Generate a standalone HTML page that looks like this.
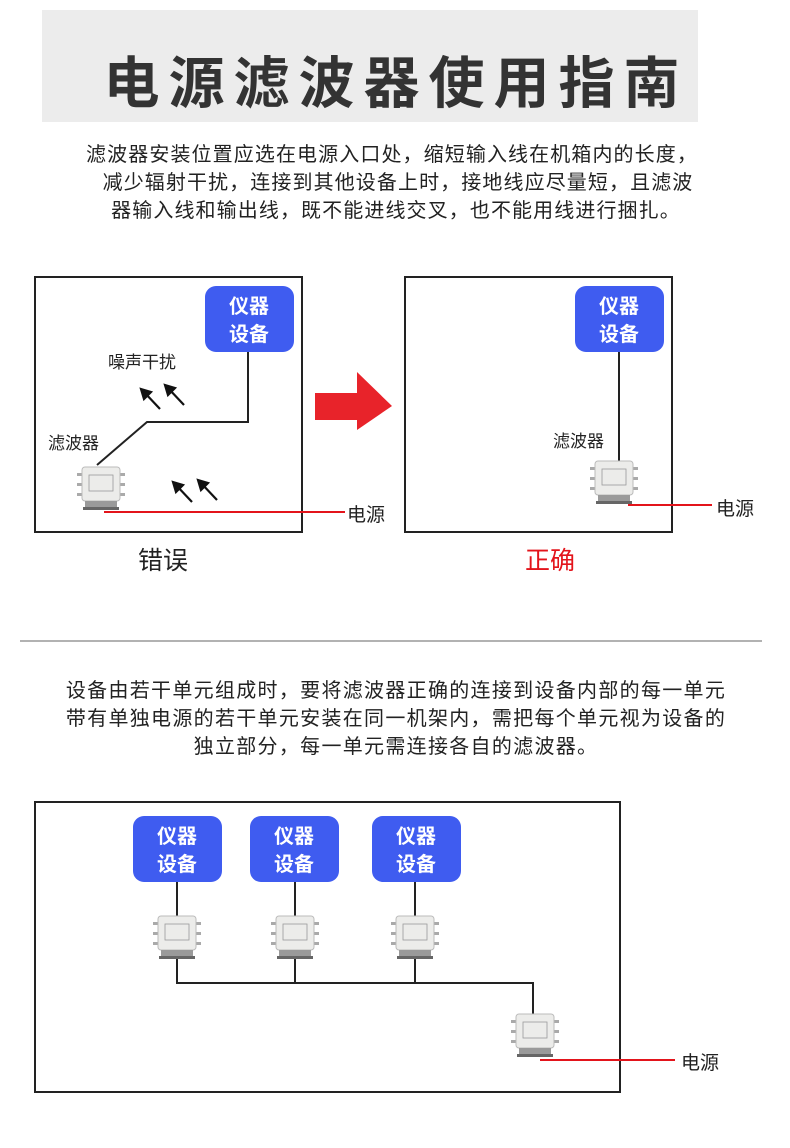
<!DOCTYPE html>
<html><head><meta charset="utf-8"><style>
html,body{margin:0;padding:0;background:#fff;}
body{width:790px;height:1148px;position:relative;overflow:hidden;font-family:"Liberation Sans","Noto Sans CJK SC",sans-serif;}
</style></head><body>
<svg width="790" height="1148" viewBox="0 0 790 1148" xmlns="http://www.w3.org/2000/svg" style="position:absolute;left:0;top:0;font-family:'Liberation Sans','Noto Sans CJK SC',sans-serif">
<defs>
<g id="flt">
 <rect x="-24" y="-14" width="5" height="3" fill="#aaa"/><rect x="-24" y="-4" width="5" height="3" fill="#aaa"/><rect x="-24" y="6" width="5" height="3" fill="#aaa"/>
 <rect x="19" y="-14" width="5" height="3" fill="#aaa"/><rect x="19" y="-4" width="5" height="3" fill="#aaa"/><rect x="19" y="6" width="5" height="3" fill="#aaa"/>
 <rect x="-19" y="-20" width="38" height="34" rx="3" fill="#ececea" stroke="#bbb" stroke-width="1"/>
 <rect x="-12" y="-12" width="24" height="16" fill="none" stroke="#999" stroke-width="0.8"/>
 <rect x="-16" y="14" width="32" height="6" fill="#9a9a9a"/>
 <rect x="-18" y="20" width="36" height="3" fill="#666"/>
</g>
</defs>
<rect x="42" y="10" width="656" height="112" fill="#ececec"/>
<text x="396" y="103" text-anchor="middle" font-size="56" font-weight="bold" fill="#333" letter-spacing="9">电源滤波器使用指南</text>
<g font-size="20" fill="#222" text-anchor="middle" letter-spacing="1.1">
<text x="392" y="161">滤波器安装位置应选在电源入口处，缩短输入线在机箱内的长度，</text>
<text x="398" y="189">减少辐射干扰，连接到其他设备上时，接地线应尽量短，且滤波</text>
<text x="396" y="217">器输入线和输出线，既不能进线交叉，也不能用线进行捆扎。</text>
</g>
<!-- box 1 -->
<rect x="35" y="277" width="267" height="255" fill="none" stroke="#222" stroke-width="2"/>
<rect x="205" y="286" width="89" height="66" rx="11" fill="#3f5cf0"/>
<text x="249" y="313" text-anchor="middle" font-size="20" font-weight="bold" fill="#fff">仪器</text>
<text x="249" y="341" text-anchor="middle" font-size="20" font-weight="bold" fill="#fff">设备</text>
<polyline points="248,352 248,422 147,422 97,465" fill="none" stroke="#222" stroke-width="2"/>
<text x="108" y="368" font-size="17" fill="#222">噪声干扰</text>
<text x="48" y="449" font-size="17" fill="#222">滤波器</text>
<g stroke="#111" stroke-width="2.2" fill="#111">
<line x1="160" y1="409" x2="144" y2="392"/><polygon points="141,389 151,392 144,399"/>
<line x1="184" y1="405" x2="168" y2="388"/><polygon points="165,385 175,388 168,395"/>
<line x1="192" y1="502" x2="176" y2="485"/><polygon points="173,482 183,485 176,492"/>
<line x1="217" y1="500" x2="201" y2="483"/><polygon points="198,480 208,483 201,490"/>
</g>
<use href="#flt" x="101" y="487"/>
<line x1="104" y1="512" x2="345" y2="512" stroke="#e3141b" stroke-width="2"/>
<text x="347" y="521" font-size="19" fill="#222">电源</text>
<text x="163" y="569" text-anchor="middle" font-size="25" fill="#222">错误</text>
<!-- red arrow -->
<polygon points="315,393 357,393 357,372 392,406 357,430 357,420 315,420" fill="#e8232a"/>
<!-- box 2 -->
<rect x="405" y="277" width="267" height="255" fill="none" stroke="#222" stroke-width="2"/>
<rect x="575" y="286" width="89" height="66" rx="11" fill="#3f5cf0"/>
<text x="619" y="313" text-anchor="middle" font-size="20" font-weight="bold" fill="#fff">仪器</text>
<text x="619" y="341" text-anchor="middle" font-size="20" font-weight="bold" fill="#fff">设备</text>
<line x1="619" y1="352" x2="619" y2="462" stroke="#222" stroke-width="2"/>
<text x="553" y="447" font-size="17" fill="#222">滤波器</text>
<use href="#flt" x="614" y="481"/>
<line x1="628" y1="505" x2="712" y2="505" stroke="#e3141b" stroke-width="2"/>
<text x="716" y="515" font-size="19" fill="#222">电源</text>
<text x="550" y="569" text-anchor="middle" font-size="25" fill="#e3141b">正确</text>
<line x1="20" y1="641" x2="762" y2="641" stroke="#999" stroke-width="1.5"/>
<g font-size="20" fill="#222" text-anchor="middle" letter-spacing="1.3">
<text x="396" y="697">设备由若干单元组成时，要将滤波器正确的连接到设备内部的每一单元</text>
<text x="396" y="725">带有单独电源的若干单元安装在同一机架内，需把每个单元视为设备的</text>
<text x="396" y="753">独立部分，每一单元需连接各自的滤波器。</text>
</g>
<!-- box 3 -->
<rect x="35" y="802" width="585" height="290" fill="none" stroke="#222" stroke-width="2"/>
<g fill="none" stroke="#222" stroke-width="2">
<line x1="177" y1="882" x2="177" y2="920"/><line x1="295" y1="882" x2="295" y2="920"/><line x1="415" y1="882" x2="415" y2="920"/>
<polyline points="177,955 177,983 533,983 533,1015"/>
<line x1="295" y1="955" x2="295" y2="983"/><line x1="415" y1="955" x2="415" y2="983"/>
</g>
<g>
<rect x="133" y="816" width="89" height="66" rx="11" fill="#3f5cf0"/>
<rect x="250" y="816" width="89" height="66" rx="11" fill="#3f5cf0"/>
<rect x="372" y="816" width="89" height="66" rx="11" fill="#3f5cf0"/>
</g>
<g font-size="20" font-weight="bold" fill="#fff" text-anchor="middle">
<text x="177" y="843">仪器</text><text x="177" y="871">设备</text>
<text x="294" y="843">仪器</text><text x="294" y="871">设备</text>
<text x="416" y="843">仪器</text><text x="416" y="871">设备</text>
</g>
<use href="#flt" x="177" y="936"/>
<use href="#flt" x="295" y="936"/>
<use href="#flt" x="415" y="936"/>
<use href="#flt" x="535" y="1034"/>
<line x1="540" y1="1060" x2="675" y2="1060" stroke="#e3141b" stroke-width="2"/>
<text x="681" y="1069" font-size="19" fill="#222">电源</text>
</svg>
</body></html>
